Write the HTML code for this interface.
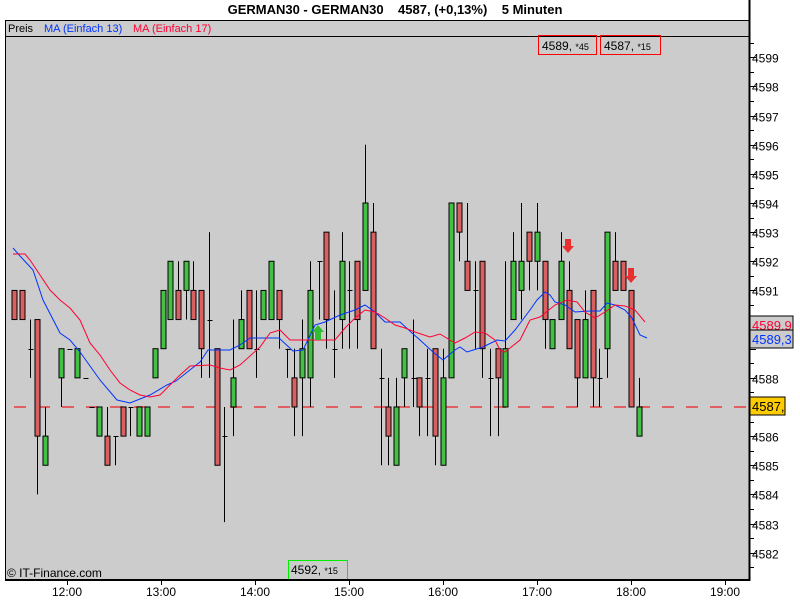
<!DOCTYPE html>
<html><head><meta charset="utf-8"><style>
body{margin:0;background:#fff;width:800px;height:600px;overflow:hidden}
svg{display:block;font-family:"Liberation Sans",sans-serif}
</style></head><body>
<svg id="s" width="800" height="600" xmlns="http://www.w3.org/2000/svg">
<rect x="0" y="0" width="800" height="600" fill="#fff"/>
<rect x="5" y="20" width="744" height="560" fill="#cccccc"/>
<line x1="5" y1="20.5" x2="749" y2="20.5" stroke="#000"/>
<text x="395" y="14" text-anchor="middle" font-size="13" font-weight="bold">GERMAN30 - GERMAN30 &#160;&#160;&#160;4587, (+0,13%) &#160;&#160;&#160;5 Minuten</text>
<line x1="5" y1="36.5" x2="749" y2="36.5" stroke="#000"/>
<text x="8" y="32" font-size="11">Preis</text>
<text x="44" y="32" font-size="11" fill="#0033ff">MA (Einfach 13)</text>
<text x="133" y="32" font-size="11" fill="#ff0033">MA (Einfach 17)</text>
<g id="ax"></g>
<line x1="14" y1="407" x2="749" y2="407" stroke="#e06060" stroke-width="2" stroke-dasharray="12,12"/>
<g id="cd"></g>
<polyline fill="none" stroke="#0033ff" stroke-width="1" points="13,248 20,256 33,270 43,300 60,333 70,340 80,352 100,380 117,400 130,403 150,395 167,385 176,381 200,362 208,350 230,350 240,345 250,338 279,338 293,351 303,350 315,325 325,322 340,315 355,310 365,305 375,312 385,322 400,322 412,333 420,340 433,352 443,360 455,350 460,347 467,352 483,347 497,340 505,341 515,330 530,310 537,300 545,292 550,295 555,302 565,305 575,312 590,311 600,311 607,303 615,305 625,310 632,318 640,335 647,338"/>
<polyline fill="none" stroke="#ff0033" stroke-width="1" points="13,254 25,254 30,260 40,275 50,290 60,300 70,308 80,320 90,343 100,355 110,370 120,383 130,390 140,395 150,397 160,395 170,385 180,375 190,366 210,365 220,368 230,370 240,365 260,347 270,333 280,330 290,340 335,340 345,328 355,318 365,310 375,312 385,318 395,325 405,328 415,332 430,337 440,334 455,343 465,338 475,332 485,333 495,340 500,350 505,352 520,340 530,320 540,317 555,305 567,300 577,302 585,312 595,318 605,312 615,305 625,306 635,310 645,322"/>
<polygon points="318,325 324,332 321,332 321,340 315,340 315,332 312,332" fill="#33bb33"/>
<polygon points="568,253 574,246 571,246 571,239 565,239 565,246 562,246" fill="#e83030"/>
<polygon points="631,283 637,276 634,276 634,268 628,268 628,276 625,276" fill="#e83030"/>
<rect x="538.5" y="35.5" width="58" height="19" fill="none" stroke="#ff0000"/>
<text x="542" y="50" font-size="12">4589, <tspan font-size="9">*45</tspan></text>
<rect x="600.5" y="35.5" width="60" height="19" fill="none" stroke="#ff0000"/>
<text x="604" y="50" font-size="12">4587, <tspan font-size="9">*15</tspan></text>
<rect x="288.5" y="560.5" width="59" height="19" fill="none" stroke="#00ee00"/>
<text x="291" y="574" font-size="12">4592, <tspan font-size="9">*15</tspan></text>
<text x="7" y="577" font-size="12">© IT-Finance.com</text>
<line x1="5.5" y1="20" x2="5.5" y2="580" stroke="#000"/>
<line x1="5" y1="580" x2="750" y2="580" stroke="#000" stroke-width="2"/>
<line x1="749.5" y1="0" x2="749.5" y2="581" stroke="#000" stroke-width="2"/>
<rect x="750" y="316" width="43" height="18" fill="#cccccc" stroke="#000"/>
<text x="752" y="330" font-size="13" fill="#ff0033">4589,9</text>
<rect x="750" y="330" width="43" height="18" fill="#cccccc" stroke="#000"/>
<text x="752" y="344" font-size="13" fill="#0033ff">4589,3</text>
<rect x="750" y="397" width="35" height="18" fill="#ffcc00" stroke="#000"/>
<text x="752" y="411" font-size="13">4587,</text>
</svg>
<script>
var Y=function(p){return 203+(4594-p)*29.14;};
var ns="http://www.w3.org/2000/svg",ax=document.getElementById("ax"),cd=document.getElementById("cd");
function el(p,t,a){var e=document.createElementNS(ns,t);for(var k in a)e.setAttribute(k,a[k]);p.appendChild(e);return e;}
for(var p=4581.5;p<=4599.5;p+=0.5){var y=Math.round(Y(p))+0.5;if(y<19||y>579)continue;var maj=(p%1==0);
el(ax,"line",{x1:749,y1:y,x2:maj?756:754,y2:y,stroke:"#000"});
if(maj&&p!=4589&&p!=4587){var t=el(ax,"text",{x:752,y:y+5,"font-size":12});t.textContent=p;}}
var tm=[["12:00",67],["13:00",161],["14:00",255],["15:00",349],["16:00",443],["17:00",537],["18:00",631],["19:00",725]];
tm.forEach(function(a){el(ax,"line",{x1:a[1]+.5,y1:580,x2:a[1]+.5,y2:585,stroke:"#000"});var t=el(ax,"text",{x:a[1],y:596,"font-size":12,"text-anchor":"middle"});t.textContent=a[0];});
var D=[[13.5,4591,4590,4591,4590],[21.5,4591,4590,4591,4590],[29.5,4589,4589,4590,4588],[36.5,4590,4586,4590,4584],[44.5,4585,4586,4587,4585],[60.5,4588,4589,4589,4587],[68.5,4589,4589,4589,4589],[76.5,4588,4589,4589,4588],[84.5,4588,4588,4588,4588],[91,4587,4587,4587,4587],[99,4586,4587,4587,4586],[107,4586,4585,4587,4585],[115,4586,4586,4586,4585],[123,4587,4586,4587,4586],[130,4587,4587,4587,4586],[138.5,4586,4587,4587,4586],[146.5,4586,4587,4587,4586],[154.7,4588,4589,4589,4588],[162.5,4589,4591,4591,4589],[169.5,4590,4592,4592,4590],[177.5,4591,4590,4592,4590],[185.5,4591,4592,4592,4590],[193,4591,4590,4592,4590],[201,4591,4589,4591,4588],[208.5,4590,4590,4593,4588],[216.5,4589,4585,4589,4585],[224,4586,4586,4587,4583.05],[233,4587,4588,4590,4586],[240.7,4589,4590,4591,4589],[248.7,4591,4589,4591,4589],[256,4589,4589,4591,4588],[263.3,4590,4591,4591,4590],[271.3,4590,4592,4592,4590],[279.3,4591,4590,4591,4589],[287.3,4589,4589,4589,4588],[294.3,4588,4587,4589,4586],[302.3,4588,4589,4590,4586],[310.3,4588,4591,4592,4587],[318.7,4592,4592,4592,4590],[326.3,4593,4590,4593,4589],[334,4589,4589,4591,4588],[341.5,4590,4592,4593,4589],[349.3,4591,4591,4592,4589],[357.3,4592,4590,4592,4589],[365.3,4591,4594,4596,4591],[373.3,4593,4589,4594,4589],[380.7,4588,4588,4589,4585],[388,4587,4586,4588,4585],[396,4585,4587,4588,4585],[404,4588,4589,4589,4587],[412.7,4588,4588,4590,4587],[419.3,4588,4587,4588,4586],[427.3,4588,4588,4589,4586],[435.3,4589,4586,4589,4585],[443.3,4585,4588,4589,4585],[451.3,4588,4594,4594,4588],[459.3,4594,4593,4594,4592],[466.7,4592,4591,4594,4591],[474.7,4591,4591,4592,4589],[482.3,4592,4589,4592,4588],[490,4588,4588,4589,4586],[498.3,4589,4588,4589,4586],[505.3,4587,4589,4592,4587],[513.3,4590,4592,4593,4590],[521.3,4591,4592,4594,4590],[529.3,4593,4592,4593,4591],[537.3,4592,4593,4594,4591],[545.3,4592,4590,4592,4589],[552.3,4589,4590,4590,4589],[561,4590,4592,4593,4590],[569,4591,4589,4592,4589],[577,4590,4588,4590,4587],[585,4588,4590,4591,4588],[592.7,4591,4588,4591,4587],[599.3,4588,4588,4589,4587],[607.3,4589,4593,4593,4588],[615.3,4592,4591,4593,4591],[623.3,4592,4591,4592,4591],[631,4591,4587,4591,4587],[638.7,4586,4587,4588,4586]];
D.forEach(function(d){var x=Math.round(d[0])+0.5,o=d[1],c=d[2];
el(cd,"line",{x1:x,y1:Y(d[3]),x2:x,y2:Y(d[4]),stroke:"#000"});
if(o==c){el(cd,"line",{x1:x-2,y1:Math.round(Y(o))+.5,x2:x+3,y2:Math.round(Y(o))+.5,stroke:"#000"});}
else{var t=Y(Math.max(o,c)),b=Y(Math.min(o,c));el(cd,"rect",{x:x-2.5,y:t,width:5,height:b-t,fill:c>o?"#44c044":"#d96060",stroke:"#000"});}});
</script>
</body></html>
